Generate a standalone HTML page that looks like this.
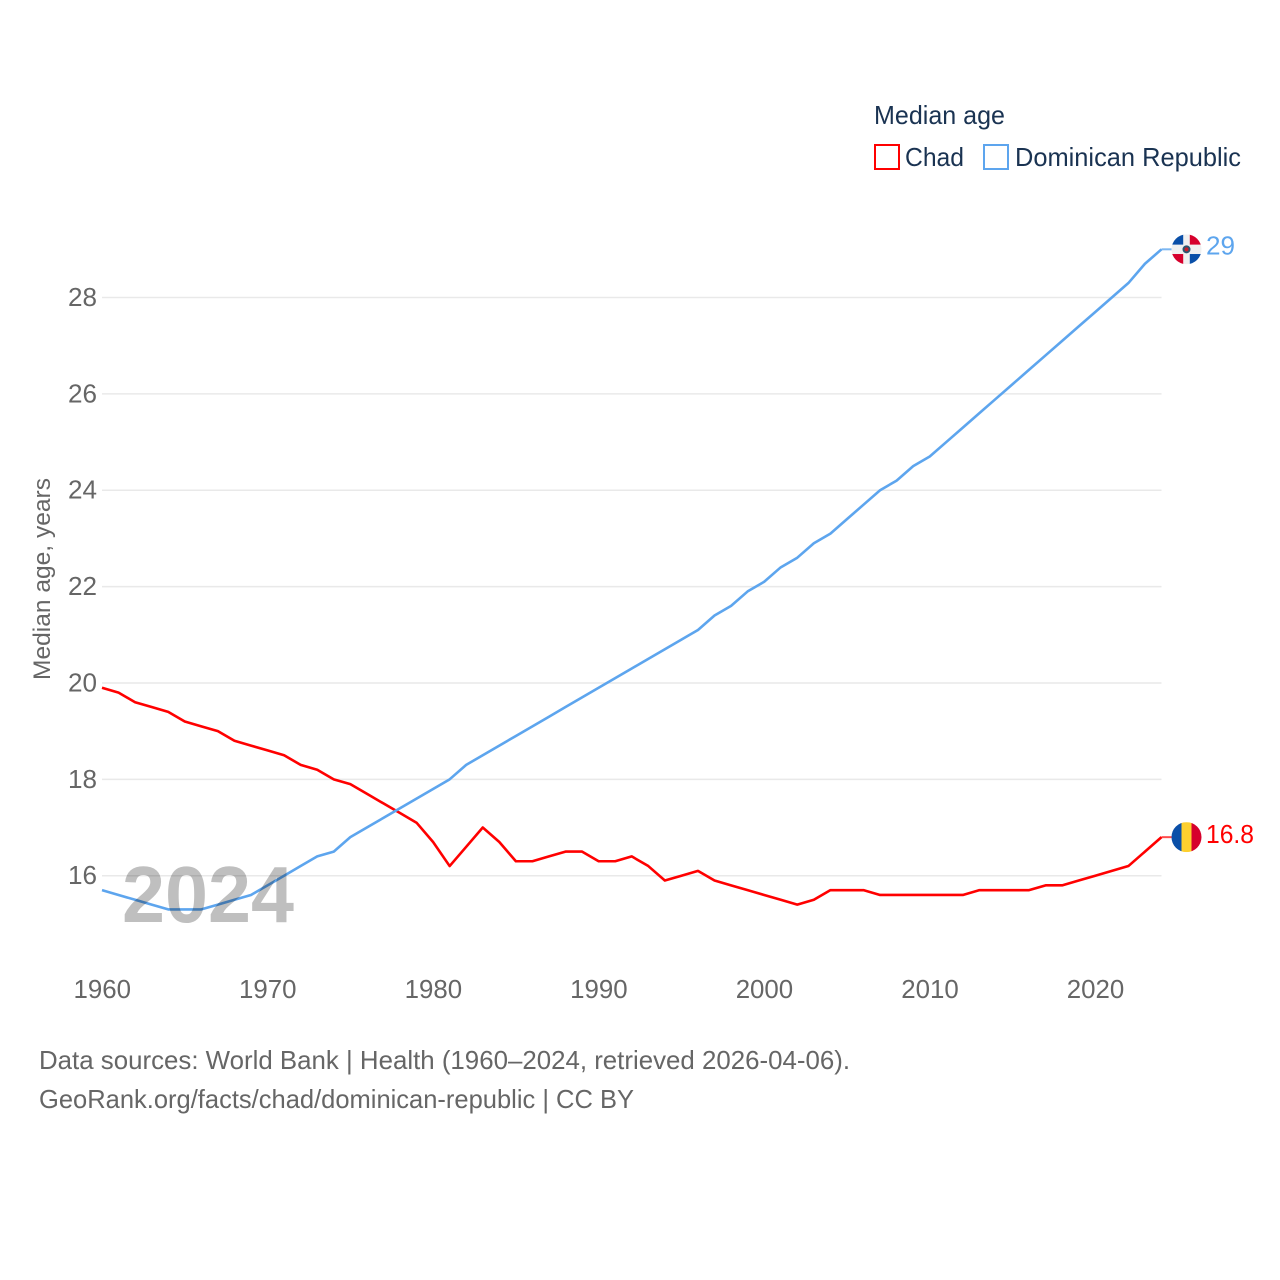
<!DOCTYPE html>
<html lang="en">
<head>
<meta charset="utf-8">
<title>Median age: Chad and Dominican Republic</title>
<style>
html,body{margin:0;padding:0;background:#fff;width:1280px;height:1280px;overflow:hidden}
svg{display:block}
text{font-family:"Liberation Sans",sans-serif}
</style>
</head>
<body>
<svg id="chart" width="1280" height="1280" viewBox="0 0 1280 1280" xmlns="http://www.w3.org/2000/svg">
  <defs>
    <clipPath id="flag-clip"><circle cx="0" cy="0" r="15"/></clipPath>
  </defs>
  <rect width="1280" height="1280" fill="#fff"/>
  <g id="grid"></g>
  <g id="yticks"></g>
  <g id="xticks"></g>
  <text transform="translate(50,680) rotate(-90)" font-size="24.5" fill="#666" textLength="202" lengthAdjust="spacingAndGlyphs">Median age, years</text>
  <g id="series"></g>
  <text x="122" y="922" font-size="80" font-weight="700" fill="#000" fill-opacity="0.25" textLength="172" lengthAdjust="spacingAndGlyphs">2024</text>
  <g id="endpoints"></g>
  <g>
    <text x="874" y="124" font-size="26" fill="#1a3352" textLength="131" lengthAdjust="spacingAndGlyphs">Median age</text>
    <g>
      <rect x="875" y="145" width="24" height="24" fill="none" stroke="#ff0000" stroke-width="2"/>
      <text x="905" y="166" font-size="26" fill="#1a3352" textLength="59" lengthAdjust="spacingAndGlyphs">Chad</text>
    </g>
    <g>
      <rect x="984" y="145" width="24" height="24" fill="none" stroke="#5da5ee" stroke-width="2"/>
      <text x="1015" y="166" font-size="26" fill="#1a3352" textLength="226" lengthAdjust="spacingAndGlyphs">Dominican Republic</text>
    </g>
  </g>
  <g>
    <text x="39" y="1069" font-size="26" fill="#666" textLength="811" lengthAdjust="spacingAndGlyphs">Data sources: World Bank | Health (1960–2024, retrieved 2026-04-06).</text>
    <text x="39" y="1108" font-size="26" fill="#666" textLength="595" lengthAdjust="spacingAndGlyphs">GeoRank.org/facts/chad/dominican-republic | CC BY</text>
  </g>
</svg>
<script>
const years = [1960,1961,1962,1963,1964,1965,1966,1967,1968,1969,1970,1971,1972,1973,1974,1975,1976,1977,1978,1979,1980,1981,1982,1983,1984,1985,1986,1987,1988,1989,1990,1991,1992,1993,1994,1995,1996,1997,1998,1999,2000,2001,2002,2003,2004,2005,2006,2007,2008,2009,2010,2011,2012,2013,2014,2015,2016,2017,2018,2019,2020,2021,2022,2023,2024];
const chadValues = [19.9,19.8,19.6,19.5,19.4,19.2,19.1,19.0,18.8,18.7,18.6,18.5,18.3,18.2,18.0,17.9,17.7,17.5,17.3,17.1,16.7,16.2,16.6,17.0,16.7,16.3,16.3,16.4,16.5,16.5,16.3,16.3,16.4,16.2,15.9,16.0,16.1,15.9,15.8,15.7,15.6,15.5,15.4,15.5,15.7,15.7,15.7,15.6,15.6,15.6,15.6,15.6,15.6,15.7,15.7,15.7,15.7,15.8,15.8,15.9,16.0,16.1,16.2,16.5,16.8];
const dominicanValues = [15.7,15.6,15.5,15.4,15.3,15.3,15.3,15.4,15.5,15.6,15.8,16.0,16.2,16.4,16.5,16.8,17.0,17.2,17.4,17.6,17.8,18.0,18.3,18.5,18.7,18.9,19.1,19.3,19.5,19.7,19.9,20.1,20.3,20.5,20.7,20.9,21.1,21.4,21.6,21.9,22.1,22.4,22.6,22.9,23.1,23.4,23.7,24.0,24.2,24.5,24.7,25.0,25.3,25.6,25.9,26.2,26.5,26.8,27.1,27.4,27.7,28.0,28.3,28.7,29.0];
const yTickValues = [16,18,20,22,24,26,28];
const xTickValues = [1960,1970,1980,1990,2000,2010,2020];
const chadLabel = "16.8";
const dominicanLabel = "29";

const NS = "http://www.w3.org/2000/svg";
function xScale(year){ return 102 + (year - 1960) * (1059.5 / 64); }
function yScale(v){ return 875.7 - (v - 16) * (578.2 / 12); }
function make(tag, attrs, parent){
  const n = document.createElementNS(NS, tag);
  for (const k in attrs) n.setAttribute(k, attrs[k]);
  parent.appendChild(n);
  return n;
}

const grid = document.getElementById("grid");
const yticks = document.getElementById("yticks");
const xticks = document.getElementById("xticks");
const series = document.getElementById("series");
const endpoints = document.getElementById("endpoints");

yTickValues.forEach(function(v){
  const line = make("line", {x1:102, x2:1161.5, y1:yScale(v), y2:yScale(v), stroke:"#e9e9e9", "stroke-width":1.5}, grid);
  
  
  const t = make("text", {x:97, y:yScale(v)+8.5, "font-size":26, fill:"#666", "text-anchor":"end", textLength:29, lengthAdjust:"spacingAndGlyphs"}, yticks);
  
  
  t.textContent = v;
});

xTickValues.forEach(function(y){
  const t = make("text", {x:xScale(y)-28.5, y:998, "font-size":26, fill:"#666", textLength:57.5, lengthAdjust:"spacingAndGlyphs"}, xticks);
  
  
  t.textContent = y;
});

function points(vals){
  return vals.map(function(v, i){ return xScale(years[i]).toFixed(2) + "," + yScale(v).toFixed(2); }).join(" ");
}
const chadLine = make("polyline", {points:points(chadValues), fill:"none", stroke:"#ff0000", "stroke-width":2.6, "stroke-linejoin":"round"}, series);


const domLine = make("polyline", {points:points(dominicanValues), fill:"none", stroke:"#5da5ee", "stroke-width":2.6, "stroke-linejoin":"round"}, series);



const lastIndex = years.length - 1;
const endX = xScale(years[lastIndex]);
const flagX = endX + 25;

/* Chad endpoint */
const chadY = yScale(chadValues[lastIndex]);
const chadConn = make("line", {x1:endX, x2:flagX-15, y1:chadY, y2:chadY, stroke:"#ff0000", "stroke-width":2, "stroke-opacity":0.7}, endpoints);


const chadFlag = make("g", {transform:"translate("+flagX+","+chadY+")", "clip-path":"url(#flag-clip)"}, endpoints);


make("rect", {x:-15, y:-15, width:10, height:30, fill:"#0a4fa8"}, chadFlag);
make("rect", {x:-5, y:-15, width:10, height:30, fill:"#fdd02f"}, chadFlag);
make("rect", {x:5, y:-15, width:10, height:30, fill:"#d6002c"}, chadFlag);
const chadText = make("text", {x:flagX+19.5, y:chadY+6, "font-size":26, fill:"#ff0000", textLength:48, lengthAdjust:"spacingAndGlyphs"}, endpoints);


chadText.textContent = chadLabel;

/* Dominican Republic endpoint */
const domY = yScale(dominicanValues[lastIndex]);
const domConn = make("line", {x1:endX, x2:flagX-15, y1:domY, y2:domY, stroke:"#5da5ee", "stroke-width":2, "stroke-opacity":0.8}, endpoints);


const domFlag = make("g", {transform:"translate("+flagX+","+domY+")", "clip-path":"url(#flag-clip)"}, endpoints);


make("rect", {x:-15, y:-15, width:30, height:30, fill:"#f0f0f0"}, domFlag);
make("rect", {x:-15, y:-15, width:11.7, height:10.3, fill:"#0a4fa8"}, domFlag);
make("rect", {x:3.3, y:-15, width:11.7, height:10.3, fill:"#d6002c"}, domFlag);
make("rect", {x:-15, y:4.7, width:11.7, height:10.3, fill:"#d6002c"}, domFlag);
make("rect", {x:3.3, y:4.7, width:11.7, height:10.3, fill:"#0a4fa8"}, domFlag);
make("circle", {cx:0, cy:0, r:4, fill:"#2c5570"}, domFlag);
make("circle", {cx:0, cy:0, r:2, fill:"#c8202c"}, domFlag);
const domText = make("text", {x:flagX+19.5, y:domY+5, "font-size":26, fill:"#5da5ee", textLength:29, lengthAdjust:"spacingAndGlyphs"}, endpoints);


domText.textContent = dominicanLabel;
</script>
</body>
</html>
